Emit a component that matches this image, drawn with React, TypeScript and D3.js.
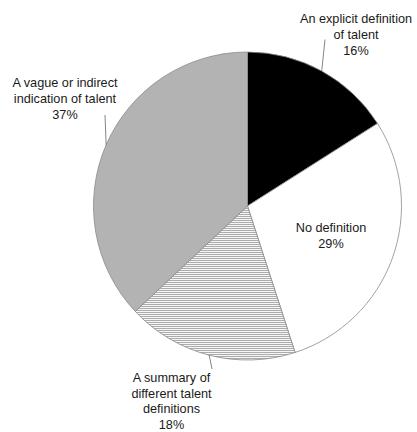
import React from "react";
import * as d3 from "d3";

const categories = [
  "An explicit definition of talent",
  "No definition",
  "A summary of different talent definitions",
  "A vague or indirect indication of talent",
];
const values = [16, 29, 18, 37];
const labelLines = [
  ["An explicit definition", "of talent", "16%"],
  ["No definition", "29%"],
  ["A summary of", "different talent", "definitions", "18%"],
  ["A vague or indirect", "indication of talent", "37%"],
];

const W = 417;
const H = 432;
const cx = 247.5;
const cy = 206;
const R = 154;
const fills = ["#000000", "#ffffff", "url(#hatch)", "#b3b3b3"];
// label text centre x, first-line centre y
const labelPos: [number, number][] = [
  [356, 18.5],
  [331, 227.5],
  [171.5, 377.5],
  [65, 82.5],
];
// leader line end points (label side); null = no leader
const leaderEnd: ([number, number] | null)[] = [[325, 39.5], null, [212, 369], [105, 115]];
const lineH = 15.8;

export default function App() {
  const pie = d3.pie<number>().sort(null).value((d) => d);
  const arcs = pie(values);
  const arc = d3.arc<d3.PieArcDatum<number>>().innerRadius(0).outerRadius(R);
  return (
    <svg
      width={W}
      height={H}
      style={{ position: "absolute", left: 0, top: 0, background: "#fff" }}
      fontFamily="'Liberation Sans', Arial, sans-serif"
    >
      <defs>
        <pattern id="hatch" patternUnits="userSpaceOnUse" width={8} height={2}>
          <rect width={8} height={2} fill="#fff" />
          <line x1={0} x2={8} y1={0.6} y2={0.6} stroke="#999" strokeWidth={0.9} />
        </pattern>
      </defs>
      <rect width={W} height={H} fill="#fff" />
      <g transform={`translate(${cx},${cy})`}>
        {arcs.map((a, i) => (
          <path key={categories[i]} d={arc(a) || ""} fill={fills[i]} stroke="#8a8a8a" strokeWidth={0.8} />
        ))}
      </g>
      {arcs.map((a, i) => {
        const e = leaderEnd[i];
        if (!e) return null;
        const m = (a.startAngle + a.endAngle) / 2;
        const x0 = cx + R * Math.sin(m);
        const y0 = cy - R * Math.cos(m);
        return <line key={"l" + i} x1={x0} y1={y0} x2={e[0]} y2={e[1]} stroke="#666" strokeWidth={0.8} />;
      })}
      {labelLines.map((lines, i) => (
        <text key={"t" + i} textAnchor="middle" fontSize={12.7} fill="#1a1a1a">
          {lines.map((ln, j) => (
            <tspan key={j} x={labelPos[i][0]} y={labelPos[i][1] + j * (i === 2 ? lineH : 16.1) + 4.2}>
              {ln}
            </tspan>
          ))}
        </text>
      ))}
    </svg>
  );
}
